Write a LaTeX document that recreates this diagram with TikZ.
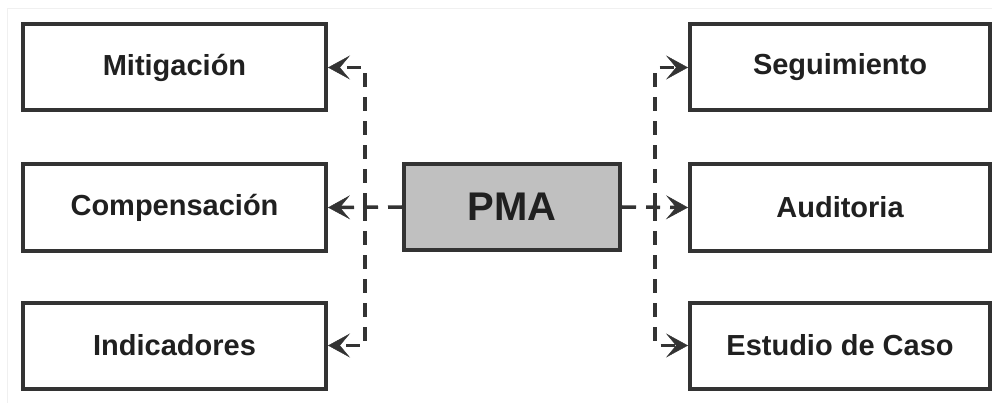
\documentclass[tikz,border=0pt]{standalone}
\usepackage{fontspec}
\setmainfont{Liberation Sans}
\usetikzlibrary{arrows.meta}
\definecolor{edge}{HTML}{333333}
\definecolor{pmafill}{HTML}{C0C0C0}
\definecolor{txt}{HTML}{202020}
\tikzset{
  box/.style={draw=edge, line width=4pt, fill=white, inner sep=0pt,
    minimum width=303pt, minimum height=86pt, text=txt,
    font=\bfseries\fontsize{29}{34}\selectfont},
  pmabox/.style={box, fill=pmafill, minimum width=216pt,
    font=\bfseries\fontsize{40}{46}\selectfont},
  conn/.style={draw=edge, line width=3.5pt, dash pattern=on 14pt off 10pt,
    -{Stealth[length=22pt,width=24pt,inset=10pt,line width=0.5pt,fill=edge]}},
}
\begin{document}
\begin{tikzpicture}[x=1pt,y=-1pt]
\useasboundingbox (0,0) rectangle (992,403);
\draw[gray!12, line width=1pt] (7,403) -- (7,9) -- (992,9);
\node[box] (mit) at (174.5,67.5) {Mitigación};
\node[box] (comp) at (174.5,207.5) {Compensación};
\node[box] (ind) at (174.5,345.5) {Indicadores};
\node[pmabox] (pma) at (512,207) {PMA};
\node[box, minimum width=300pt] (seg) at (840,67.5) {Seguimiento};
\node[box, minimum width=300pt] (aud) at (840,207.5) {Auditoria};
\node[box, minimum width=300pt] (est) at (840,345.5) {Estudio de Caso};
\coordinate (cl) at (365,207);
\coordinate (cr) at (655,207);
\draw[conn] (pma.west) -- (comp.east);
\draw[conn] (cl) |- (mit.east);
\draw[conn] (cl) |- (ind.east);
\draw[conn] (pma.east) -- (aud.west);
\draw[conn] (cr) |- (seg.west);
\draw[conn] (cr) |- (est.west);
\end{tikzpicture}
\end{document}
